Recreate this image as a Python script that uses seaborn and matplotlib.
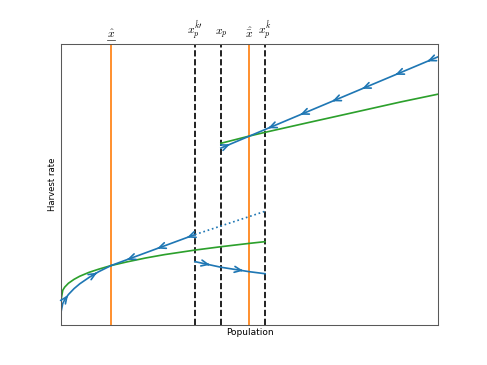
import numpy as np
import pandas as pd
import matplotlib
matplotlib.use("Agg")
import matplotlib.pyplot as plt
from matplotlib.lines import Line2D
import seaborn as sns

# ---- data ----
orange_x = [1.33, 4.99]
dashed_x = [3.55, 4.24, 5.41]
top_tick_x = [1.33, 3.55, 4.24, 4.99, 5.41]
top_tick_labels = [r"$\hat{x}$", r"$x_p^{\hat{k}\prime}$", r"$x_p$",
                   r"$\hat{\bar{x}}$", r"$x_p^{\hat{k}}$"]

green_low_x = [0, 0.05, 0.1, 0.2, 0.35, 0.5, 0.75, 1.0, 1.33, 1.75, 2.25, 2.75, 3.25, 3.55, 4.24, 5.0, 5.41]
green_low_y = [0.86, 1.23, 1.34, 1.48, 1.62, 1.73, 1.87, 1.98, 2.11, 2.24, 2.38, 2.50, 2.60, 2.66, 2.78, 2.90, 2.96]

green_up_x = [4.24, 5.0, 5.41, 6.5, 7.67, 9.0, 10.0]
green_up_y = [6.46, 6.72, 6.85, 7.18, 7.53, 7.93, 8.21]

blue_curve_x = [0, 0.05, 0.1, 0.2, 0.35, 0.5, 0.75, 1.0, 1.33]
blue_curve_y = [0.43, 0.76, 0.89, 1.08, 1.29, 1.46, 1.69, 1.89, 2.11]

blue_back_x = [1.33, 3.55]
blue_back_y = [2.11, 3.21]

blue_dot_x = [3.55, 5.41]
blue_dot_y = [3.21, 4.04]

blue_right_x = [3.55, 4.24, 5.0, 5.41]
blue_right_y = [2.25, 2.05, 1.89, 1.82]

blue_up_x = [4.24, 10.0]
blue_up_y = [6.29, 9.54]

blue_up_short_x = [4.24, 5.41]
blue_up_short_y = [6.29, 6.95]

BLUE = "#1f77b4"
GREEN = "#2ca02c"
ORANGE = "#ff7f0e"
LW = 1.6

plt.rcParams["mathtext.fontset"] = "cm"
fig, ax = plt.subplots(figsize=(487 / 76, 365 / 76), dpi=76)

def line(x, y, color, ls="-"):
    df = pd.DataFrame({"x": x, "y": y})
    sns.lineplot(data=df, x="x", y="y", color=color, lw=LW, linestyle=ls,
                 sort=False, estimator=None, ax=ax)

for xv in orange_x:
    ax.axvline(xv, color=ORANGE, lw=LW)
for xv in dashed_x:
    ax.axvline(xv, color="black", lw=LW, ls="--")

line(green_low_x, green_low_y, GREEN)
line(green_up_x, green_up_y, GREEN)
line(blue_curve_x, blue_curve_y, BLUE)
line(blue_back_x, blue_back_y, BLUE)
line(blue_dot_x, blue_dot_y, BLUE, ":")
line(blue_right_x, blue_right_y, BLUE)
line(blue_up_x, blue_up_y, BLUE)

def arrows(xs_line, ys_line, at, direction):
    for xa in at:
        ya = np.interp(xa, xs_line, ys_line)
        xb = xa - direction * 0.05
        yb = np.interp(xb, xs_line, ys_line)
        ax.annotate("", xy=(xa, ya), xytext=(xb, yb),
                    arrowprops=dict(arrowstyle="->,head_length=0.45,head_width=0.2",
                                    color=BLUE, lw=LW,
                                    mutation_scale=14, shrinkA=0, shrinkB=0))

arrows(blue_curve_x, blue_curve_y, [0.19, 0.96], 1)
arrows(blue_back_x, blue_back_y, [3.34, 2.55, 1.75], -1)
arrows(blue_right_x, blue_right_y, [3.95, 4.83], 1)
arrows(blue_up_x, blue_up_y, [9.71, 8.86, 7.98, 7.19, 6.34, 5.49], -1)
arrows(blue_up_short_x, blue_up_short_y, [4.48], 1)

ax.set_xlim(0, 10)
ax.set_ylim(0, 10)
ax.set_xticks(top_tick_x)
ax.set_xticklabels(top_tick_labels, fontsize=11)
ax.set_yticks([])
ax.tick_params(axis="x", top=True, labeltop=True, bottom=False, labelbottom=False,
               length=0, pad=3)
ax.set_xlabel("Population", fontsize=8.5, labelpad=3)
ax.set_ylabel("Harvest rate", fontsize=8, labelpad=4)
for sp in ax.spines.values():
    sp.set_color("0.35")
    sp.set_linewidth(1.0)

# underline below the first top label
ax.add_line(Line2D([top_tick_x[0] - 0.1, top_tick_x[0] + 0.1], [1.014, 1.014],
                   transform=ax.get_xaxis_transform(), color="0.2", lw=0.7,
                   clip_on=False))

fig.savefig("out.png", dpi=76)
